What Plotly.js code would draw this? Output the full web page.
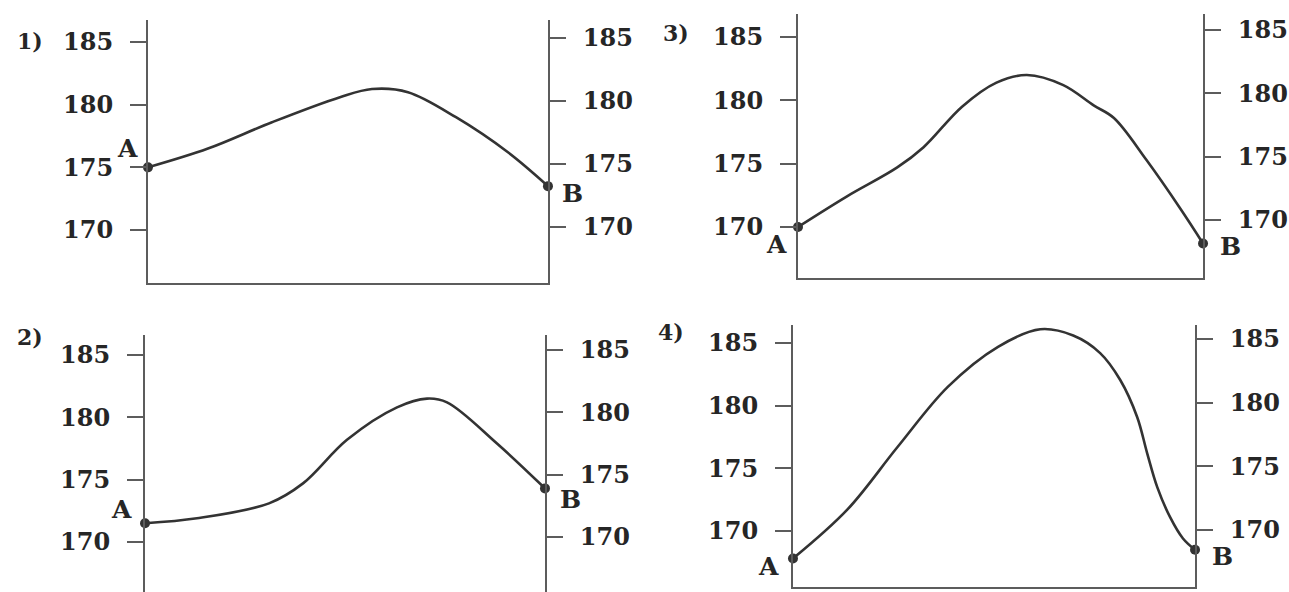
<!DOCTYPE html>
<html>
<head>
<meta charset="utf-8">
<script src="https://cdn.plot.ly/plotly-3.0.1.min.js"></script>
<style>
  html, body { margin: 0; padding: 0; background: #fff; }
  #plot { width: 1289px; height: 592px; }
</style>
</head>
<body>
<div id="plot"></div>
<script>
// tick labels shared by every axis
const tickVals = [170, 175, 180, 185];

// horizontal position as % of the width between the two axes, height read on left axis
const x1 = [0, 15, 31, 48, 56, 65, 77, 90, 100];
const y1 = [175, 176.5, 178.6, 180.6, 181.25, 181.0, 179.0, 176.2, 173.5];

const x2 = [0, 13, 31, 39.5, 50.5, 63, 70.5, 75.5, 88, 100];
const y2 = [171.5, 171.9, 173.1, 174.7, 178.2, 180.8, 181.5, 181.2, 177.9, 174.3];

const x3 = [0, 12, 24.5, 31, 40.5, 49, 56.5, 65.5, 73, 78, 86, 94.5, 100];
const y3 = [170, 172.4, 174.7, 176.3, 179.5, 181.4, 182.0, 181.2, 179.6, 178.6, 175.3, 171.4, 168.7];

const x4 = [0, 13.5, 26, 38.5, 51, 61.5, 69.7, 76.4, 81.4, 85.6, 88.1, 90.6, 93.8, 97, 100];
const y4 = [167.8, 171.7, 176.7, 181.5, 184.7, 186.1, 185.6, 184.2, 182.05, 179.1, 176.2, 173.5, 171.1, 169.4, 168.5];

const panelNames = ['1)', '2)', '3)', '4)'];
const pointNames = ['A', 'B'];

const serif = 'DejaVu Serif';
const ink = '#333';
const textInk = '#262626';
const axisColor = '#5c5c5c';

// panel boxes (paper fractions), y ranges of left / right axes, label offsets in px
const panels = [
    { xs: x1, ys: y1, xd: [0.1148, 0.4251], yd: [0.5220, 0.9662],
      left: [165.77, 186.76], right: [165.56, 186.43], bottomLine: true,
      offA: [-20, 19], offB: [25, -7], label: [0.012, 0.93] },
    { xs: x2, ys: y2, xd: [0.1125, 0.4228], yd: [0.0, 0.4341],
      left: [165.99, 186.60], right: [165.59, 186.20], bottomLine: false,
      offA: [-24, 14], offB: [26, -11], label: [0.012, 0.43] },
    { xs: x3, ys: y3, xd: [0.6191, 0.9333], yd: [0.5304, 0.9764],
      left: [165.97, 186.82], right: [165.42, 186.26], bottomLine: true,
      offA: [-22, -18], offB: [27, -3], label: [0.513, 0.945] },
    { xs: x4, ys: y4, xd: [0.6152, 0.9271], yd: [0.00845, 0.4510],
      left: [165.53, 186.44], right: [165.52, 186.10], bottomLine: true,
      offA: [-24, -8], offB: [27, -7], label: [0.509, 0.44] }
];

function yAxis(range, domain, side, anchor, overlay) {
    const ax = {
        range: range,
        domain: domain,
        side: side,
        anchor: anchor,
        tickvals: tickVals,
        ticktext: tickVals.map(String),
        ticks: 'outside',
        ticklen: 16,
        tickwidth: 2,
        tickcolor: axisColor,
        ticklabelstandoff: 12,
        showline: true,
        linewidth: 2,
        linecolor: axisColor,
        showgrid: false,
        zeroline: false,
        fixedrange: true,
        tickfont: { family: serif, size: 24, color: textInk, weight: 'bold' }
    };
    if (overlay) ax.overlaying = overlay;
    return ax;
}

const traces = [];
const layout = {
    width: 1289,
    height: 592,
    margin: { l: 0, r: 0, t: 0, b: 0 },
    paper_bgcolor: '#fff',
    plot_bgcolor: 'rgba(0,0,0,0)',
    showlegend: false,
    annotations: []
};

panels.forEach((p, i) => {
    const n = i + 1;
    const xName = n === 1 ? 'x' : 'x' + n;
    const yl = 2 * n - 1;
    const yr = 2 * n;
    const ylName = yl === 1 ? 'y' : 'y' + yl;
    const yrName = 'y' + yr;

    layout[n === 1 ? 'xaxis' : 'xaxis' + n] = {
        range: [0, 100],
        domain: p.xd,
        anchor: ylName,
        showline: p.bottomLine,
        linewidth: 2,
        linecolor: axisColor,
        showticklabels: false,
        ticks: '',
        showgrid: false,
        zeroline: false,
        fixedrange: true
    };
    layout[yl === 1 ? 'yaxis' : 'yaxis' + yl] = yAxis(p.left, p.yd, 'left', xName, null);
    layout['yaxis' + yr] = yAxis(p.right, p.yd, 'right', xName, ylName);

    // invisible copy so the right-hand axis gets drawn
    traces.push({
        x: p.xs, y: p.ys,
        xaxis: xName, yaxis: yrName,
        mode: 'lines',
        line: { width: 0 },
        opacity: 0,
        hoverinfo: 'skip'
    });

    traces.push({
        x: p.xs, y: p.ys,
        xaxis: xName, yaxis: ylName,
        mode: 'lines',
        line: { color: ink, width: 2.6, shape: 'spline', smoothing: 1 },
        hoverinfo: 'skip'
    });

    const last = p.xs.length - 1;
    const ends = [0, last];
    traces.push({
        x: ends.map(k => p.xs[k]),
        y: ends.map(k => p.ys[k]),
        xaxis: xName, yaxis: ylName,
        mode: 'markers',
        marker: { color: ink, size: 10 },
        cliponaxis: false,
        hoverinfo: 'skip'
    });

    [p.offA, p.offB].forEach((off, j) => {
        layout.annotations.push({
            text: pointNames[j],
            xref: xName, yref: ylName,
            x: p.xs[ends[j]], y: p.ys[ends[j]],
            xshift: off[0], yshift: off[1],
            showarrow: false,
            font: { family: serif, size: 25, color: textInk, weight: 'bold' }
        });
    });

    layout.annotations.push({
        text: panelNames[i],
        xref: 'paper', yref: 'paper',
        x: p.label[0], y: p.label[1],
        xanchor: 'left', yanchor: 'middle',
        showarrow: false,
        font: { family: serif, size: 22, color: textInk, weight: 'bold' }
    });
});

Plotly.newPlot('plot', traces, layout, { displayModeBar: false, staticPlot: true });
</script>
</body>
</html>
